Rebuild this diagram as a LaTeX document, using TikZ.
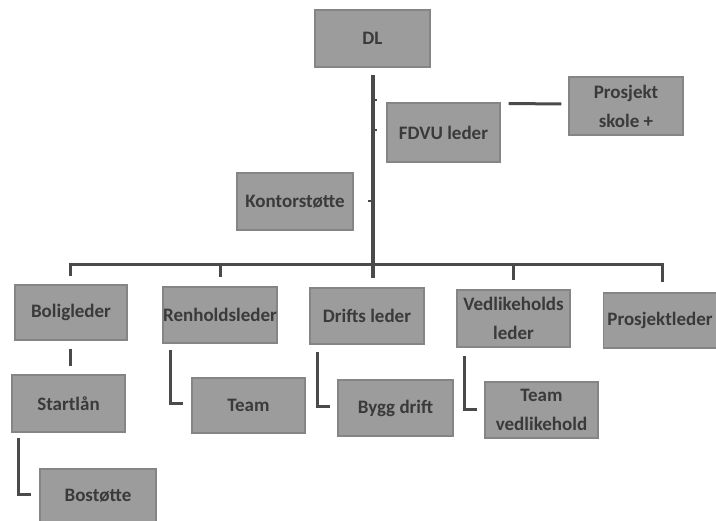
\documentclass[tikz,border=0pt]{standalone}
\usepackage{fontspec}
\setmainfont{Carlito}
\begin{document}
\begin{tikzpicture}[x=1pt,y=-1pt,
  box/.style={draw=boxedge,line width=1.2pt,fill=boxfill,text=textcol,inner sep=0pt,
    align=center,font=\fontsize{19}{29}\selectfont\bfseries},
  conn/.style={draw=linecol,line width=3pt},
  trunk/.style={draw=linecol,line width=4.5pt}]
\definecolor{boxfill}{HTML}{9C9C9C}
\definecolor{boxedge}{HTML}{858585}
\definecolor{textcol}{HTML}{3A3A3A}
\definecolor{linecol}{HTML}{4A4A4A}
\useasboundingbox[fill=white] (0,0) rectangle (716,521);
% nodes
\node[box,minimum width=115,minimum height=57] (dl) at (372.5,38.5) {DL};
\node[box,minimum width=113,minimum height=59] (fdvu) at (443.5,132.5) {FDVU leder};
\node[box,minimum width=114,minimum height=58] (psk) at (626,106) {Prosjekt\\skole +};
\node[box,minimum width=116,minimum height=57] (kont) at (295,201.5) {Kontorstøtte};
\node[box,minimum width=112,minimum height=55] (bolig) at (71,312.5) {Boligleder};
\node[box,minimum width=114,minimum height=56] (renh) at (220,315) {Renholdsleder};
\node[box,minimum width=114,minimum height=56] (drift) at (367,316) {Drifts leder};
\node[box,minimum width=113,minimum height=57] (vedl) at (513.5,318.5) {Vedlikeholds\\leder};
\node[box,minimum width=113,minimum height=55] (prosj) at (660,320.5) {Prosjektleder};
\node[box,minimum width=113,minimum height=57] (start) at (68.5,403.5) {Startlån};
\node[box,minimum width=113,minimum height=55] (team) at (248.5,405.5) {Team};
\node[box,minimum width=115,minimum height=56] (bygg) at (395.5,408) {Bygg drift};
\node[box,minimum width=113,minimum height=56] (teamv) at (541.5,410) {Team\\vedlikehold};
\node[box,minimum width=116,minimum height=53] (bost) at (98,495.5) {Bostøtte};
% coordinates for the connector system
\coordinate (ttop) at (373,75);
\coordinate (tbot) at (373,278);
\coordinate (barL) at (70,265);
\coordinate (barR) at (662,265);
\coordinate (f1) at (373,100);
\coordinate (f2) at (373,130);
\coordinate (k1) at (373,201);
% trunk and bar
\draw[trunk] (ttop) -- (tbot);
\draw[conn] (barL) -- (barR);
\draw[conn,line width=2pt] (f1) -- ++(4,0);
\draw[conn,line width=2pt] (f2) -- ++(4,0);
\draw[conn,line width=2pt] (k1) -- ++(-5,0);
% drops to the second row
\draw[conn] ([yshift=1.5pt]barL) -- (70,276);
\draw[conn] (220,265) -- (220,277);
\draw[conn] (513,265) -- (513,280);
\draw[conn] ([yshift=1.5pt]barR) -- (662,282);
% FDVU to Prosjekt skole+
\draw[conn] ([xshift=8pt,yshift=29pt]fdvu.east) -- ([xshift=-7pt,yshift=2pt]psk.west);
% Boligleder to Startlan
\draw[conn] ([yshift=-8pt]bolig.south -| 70,0) -- ([yshift=8pt]start.north -| 70,0);
% L connectors
\draw[conn] (18,438) |- ([xshift=-8pt]bost.west |- 0,495);
\draw[conn] (170,350) |- (183,404);
\draw[conn] (317,352) |- (330,407);
\draw[conn] (464,356) |- (477,410);
\end{tikzpicture}
\end{document}
